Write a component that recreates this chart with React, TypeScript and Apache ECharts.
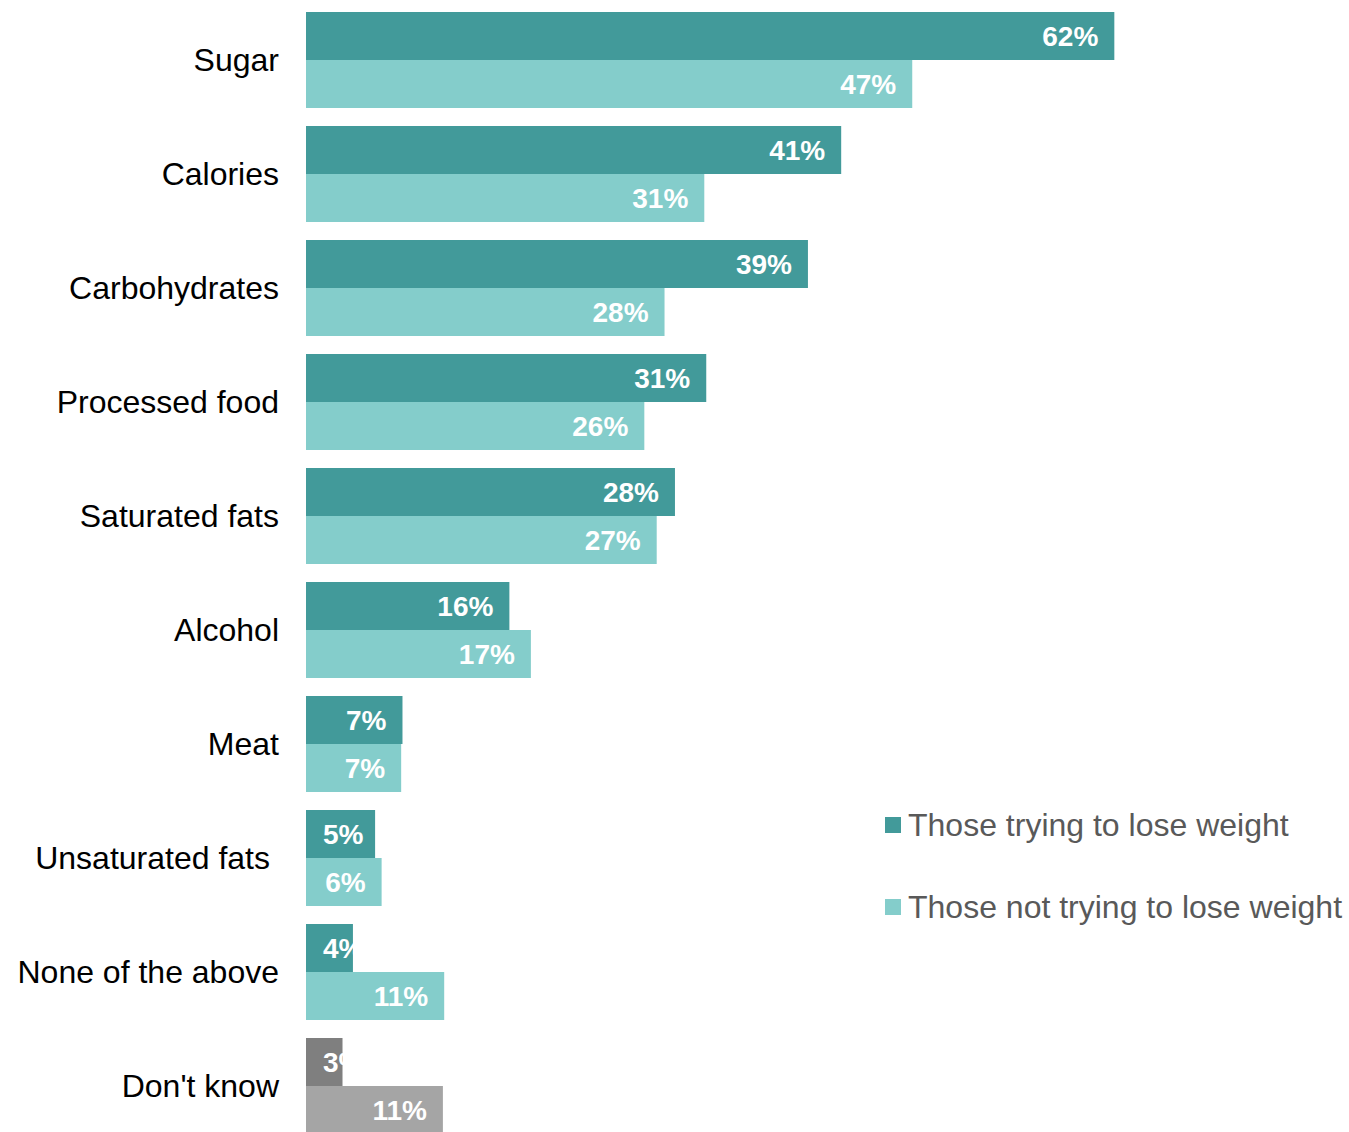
import React, { useEffect, useRef } from "react";
import * as echarts from "echarts";

const categories = [
  "Sugar",
  "Calories",
  "Carbohydrates",
  "Processed food",
  "Saturated fats",
  "Alcohol",
  "Meat",
  "Unsaturated fats",
  "None of the above",
  "Don't know",
];

const seriesNames = ["Those trying to lose weight", "Those not trying to lose weight"];

const tryingValues = [62.0, 41.05, 38.5, 30.7, 28.3, 15.6, 7.4, 5.3, 3.6, 2.8];
const notTryingValues = [46.5, 30.55, 27.5, 25.95, 26.9, 17.25, 7.3, 5.8, 10.6, 10.5];

const DARK = "#429a9a";
const LIGHT = "#84cdcb";
const GREY_DARK = "#7f7f7f";
const GREY_LIGHT = "#a5a5a5";
const FONT = "'Liberation Sans', Arial, sans-serif";

function buildData(values: number[], greyColor: string) {
  return values.map((v, i) => {
    const item: any = { value: v };
    if (categories[i] === "Don't know") {
      item.itemStyle = { color: greyColor };
    }
    if (v < 5.6) {
      item.label = { position: "insideLeft", distance: 17 };
    }
    return item;
  });
}

export default function App() {
  const ref = useRef<HTMLDivElement>(null);

  useEffect(() => {
    if (!ref.current) return;
    const chart = echarts.init(ref.current, undefined, { renderer: "svg" });
    const labelCfg = {
      show: true,
      position: "insideRight",
      distance: 16,
      color: "#ffffff",
      fontFamily: FONT,
      fontWeight: "bold",
      fontSize: 28,
      formatter: (p: any) => Math.round(p.value) + "%",
    };
    chart.setOption({
      animation: false,
      backgroundColor: "#ffffff",
      textStyle: { fontFamily: FONT },
      grid: { left: 306, top: 3, right: 0, height: 1140, containLabel: false },
      legend: {
        orient: "vertical",
        left: 880,
        top: 804,
        itemWidth: 16,
        itemHeight: 16,
        itemGap: 50,
        icon: "rect",
        textStyle: {
          color: "#595959",
          fontSize: 32,
          fontFamily: FONT,
          lineHeight: 32,
          padding: [0, 0, 0, 2],
        },
        data: seriesNames,
      },
      xAxis: {
        type: "value",
        min: 0,
        max: 80,
        show: false,
        splitLine: { show: false },
      },
      yAxis: {
        type: "category",
        inverse: true,
        data: categories,
        axisLine: { show: false },
        axisTick: { show: false },
        axisLabel: {
          margin: 27,
          color: "#000000",
          fontSize: 32,
          fontFamily: FONT,
          formatter: (v: string) => (v === "Unsaturated fats" ? "{u|" + v + "}" : v),
          rich: {
            u: {
              color: "#000000",
              fontSize: 32,
              fontFamily: FONT,
              padding: [0, 9, 0, 0],
            },
          },
        },
      },
      series: [
        {
          name: seriesNames[0],
          type: "bar",
          barWidth: 48,
          barGap: "0%",
          itemStyle: { color: DARK },
          label: labelCfg,
          data: buildData(tryingValues, GREY_DARK),
        },
        {
          name: seriesNames[1],
          type: "bar",
          barWidth: 48,
          barGap: "0%",
          itemStyle: { color: LIGHT },
          label: labelCfg,
          data: buildData(notTryingValues, GREY_LIGHT),
        },
      ],
    });
    return () => chart.dispose();
  }, []);

  return (
    <div
      style={{
        position: "fixed",
        left: 0,
        top: 0,
        width: 1349,
        height: 1132,
        overflow: "hidden",
        background: "#ffffff",
      }}
    >
      <div ref={ref} style={{ width: 1349, height: 1146 }} />
    </div>
  );
}
